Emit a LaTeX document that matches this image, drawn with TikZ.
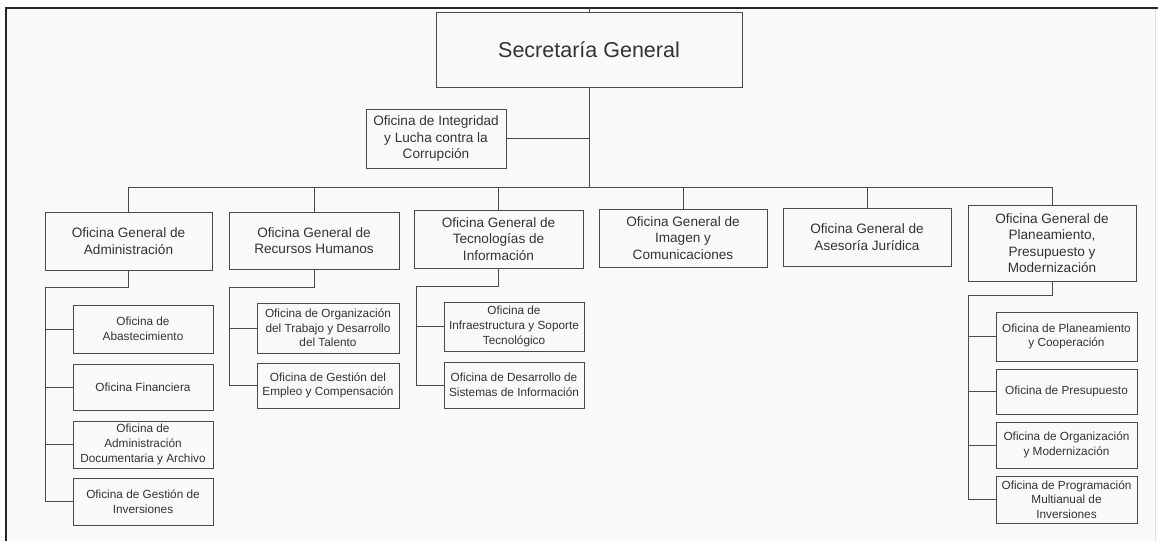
\documentclass[tikz,border=0pt]{standalone}
\usepackage{fontspec}
\setmainfont{Liberation Sans}
\definecolor{linec}{HTML}{4A4A4A}
\definecolor{txt}{HTML}{333333}
\definecolor{bgc}{HTML}{FAFAFA}
\begin{document}
\begin{tikzpicture}[x=1pt,y=-1pt,
  conn/.style={draw=linec, line width=1pt},
  box/.style={draw=linec, line width=1pt, inner sep=0pt, align=center, text=txt},
  big/.style={box, font=\fontsize{21.5}{24}\selectfont},
  mid/.style={box, font=\fontsize{13.6}{16.5}\selectfont},
  sub/.style={box, font=\fontsize{11.8}{14.7}\selectfont},
]
\useasboundingbox (0,0) rectangle (1158,541);
% frame
\fill[white] (0,0) rectangle (1158,541);
\fill[bgc] (5,8) rectangle (1155,541);
\draw[black!85, line width=2pt] (5,8) -- (1158,8);
\draw[black!85, line width=2pt] (5.5,7) -- (5.5,541);
\draw[black!12, line width=1pt] (1155,9) -- (1155,541);

% top level
\node[big, minimum width=306pt, minimum height=75pt] (sg) at (589,49.5) {Secretaría General};
\node[mid, minimum width=140pt, minimum height=59pt] (oi) at (436,138.5) {Oficina de Integridad\\y Lucha contra la\\Corrupción};

% second level
\node[mid, minimum width=167pt, minimum height=58pt] (adm) at (128.5,241) {Oficina General de\\Administración};
\node[mid, minimum width=170pt, minimum height=57pt] (rh) at (314,240.5) {Oficina General de\\Recursos Humanos};
\node[mid, minimum width=169pt, minimum height=58pt] (ti) at (498.5,239) {Oficina General de\\Tecnologías de\\Información};
\node[mid, minimum width=168pt, minimum height=58pt] (im) at (683,238) {Oficina General de\\Imagen y\\Comunicaciones};
\node[mid, minimum width=168pt, minimum height=58pt] (as) at (867,237) {Oficina General de\\Asesoría Jurídica};
\node[mid, minimum width=168pt, minimum height=76pt] (pl) at (1052,243) {Oficina General de\\Planeamiento,\\Presupuesto y\\Modernización};

% administracion subs
\node[sub, minimum width=140pt, minimum height=48pt] (a1) at (143,329) {Oficina de\\Abastecimiento};
\node[sub, minimum width=140pt, minimum height=46pt] (a2) at (143,387) {Oficina Financiera};
\node[sub, minimum width=140pt, minimum height=47pt] (a3) at (143,444.5) {Oficina de\\Administración\\Documentaria y Archivo};
\node[sub, minimum width=140pt, minimum height=47pt] (a4) at (143,501.5) {Oficina de Gestión de\\Inversiones};

% rrhh subs
\node[sub, minimum width=142pt, minimum height=50pt] (r1) at (328,328) {Oficina de Organización\\del Trabajo y Desarrollo\\del Talento};
\node[sub, minimum width=142pt, minimum height=45pt] (r2) at (328,385.5) {Oficina de Gestión del\\Empleo y Compensación};

% ti subs
\node[sub, minimum width=140pt, minimum height=49pt] (t1) at (514,326.5) {Oficina de\\Infraestructura y Soporte\\Tecnológico};
\node[sub, minimum width=140pt, minimum height=46pt] (t2) at (514,385) {Oficina de Desarrollo de\\Sistemas de Información};

% planeamiento subs
\node[sub, minimum width=141pt, minimum height=49pt] (p1) at (1066.5,336.5) {Oficina de Planeamiento\\y Cooperación};
\node[sub, minimum width=141pt, minimum height=45pt] (p2) at (1066.5,391.5) {Oficina de Presupuesto};
\node[sub, minimum width=141pt, minimum height=46pt] (p3) at (1066.5,445) {Oficina de Organización\\y Modernización};
\node[sub, minimum width=141pt, minimum height=47pt] (p4) at (1066.5,499.5) {Oficina de Programación\\Multianual de\\Inversiones};

% connectors
\coordinate (topc) at (589,8);
\coordinate (bus) at (589,187);
\draw[conn] (sg.north) -- (topc);
\draw[conn] (sg.south) -- (bus);
\draw[conn] (oi.east) -- (oi.east -| bus);
\draw[conn] (adm.north) -- (adm.north |- bus) -- (pl.north |- bus) -- (pl.north);
\foreach \n in {rh,ti,im,as} \draw[conn] (\n.north) -- (\n.north |- bus);

\coordinate (admL) at (45,287);
\draw[conn] (adm.south) |- (admL) -- (admL |- a4.west) -- (a4.west);
\foreach \n in {a1,a2,a3} \draw[conn] (\n.west) -- (\n.west -| admL);

\coordinate (rhL) at (229,287);
\draw[conn] (rh.south) |- (rhL) -- (rhL |- r2.west) -- (r2.west);
\draw[conn] (r1.west) -- (r1.west -| rhL);

\coordinate (tiL) at (416,286);
\draw[conn] (ti.south) |- (tiL) -- (tiL |- t2.west) -- (t2.west);
\draw[conn] (t1.west) -- (t1.west -| tiL);

\coordinate (plL) at (968,295);
\draw[conn] (pl.south) |- (plL) -- (plL |- p4.west) -- (p4.west);
\foreach \n in {p1,p2,p3} \draw[conn] (\n.west) -- (\n.west -| plL);
\end{tikzpicture}
\end{document}
